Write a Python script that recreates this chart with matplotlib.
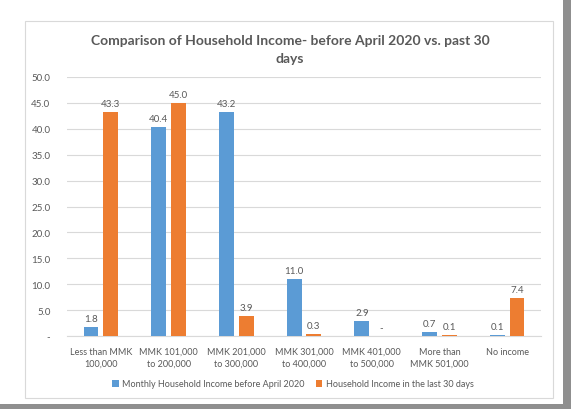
import matplotlib
matplotlib.use('Agg')
import matplotlib.pyplot as plt
from matplotlib.patches import Rectangle
import numpy as np

plt.rcParams['font.family'] = ['Lato', 'DejaVu Sans']

categories = ['Less than MMK\n100,000', 'MMK 101,000\nto 200,000', 'MMK 201,000\nto 300,000',
              'MMK 301,000\nto 400,000', 'MMK 401,000\nto 500,000', 'More than\nMMK 501,000',
              'No income']
before = [1.8, 40.4, 43.2, 11.0, 2.9, 0.7, 0.1]
last30 = [43.3, 45.0, 3.9, 0.3, 0.0, 0.1, 7.4]
series_names = ['Monthly Household Income before April 2020', 'Household Income in the last 30 days']
yticks = [0, 5, 10, 15, 20, 25, 30, 35, 40, 45, 50]

BLUE = '#5B9BD5'
ORANGE = '#ED7D31'
TXT = '#595959'

W, H = 571, 410


def fmt(v):
    # excel accounting style: zero shows as a dash
    return '-' if v == 0 else '%.1f' % v


fig = plt.figure(figsize=(W / 100, H / 100), dpi=100)
fig.patch.set_facecolor('#8f8f8f')

# white card with a drop shadow on the right and bottom
fig.patches.append(Rectangle((0, 5 / H), 563 / W, 1 - 5 / H, transform=fig.transFigure,
                             facecolor='white', edgecolor='none', zorder=0))
fig.patches.append(Rectangle((25 / W, 1 - 399 / H), (553 - 25) / W, (399 - 22) / H,
                             transform=fig.transFigure, facecolor='white',
                             edgecolor='#D9D9D9', lw=0.8, zorder=1))

ax = fig.add_axes([67 / W, 1 - 337 / H, (541 - 67) / W, (337 - 78) / H])
ax.set_facecolor('none')
ax.set_zorder(2)

x = np.arange(len(categories))
w = 0.22
off = 0.145
b1 = ax.bar(x - off, before, w, color=BLUE, label=series_names[0], zorder=3)
b2 = ax.bar(x + off, last30, w, color=ORANGE, label=series_names[1], zorder=3)

for bars, vals in ((b1, before), (b2, last30)):
    for r, v in zip(bars, vals):
        ax.annotate(fmt(v), (r.get_x() + r.get_width() / 2, v), xytext=(0, 3),
                    textcoords='offset points', ha='center', va='bottom',
                    fontsize=7, color=TXT)

ax.set_xlim(-0.5, len(categories) - 0.5)
ax.set_ylim(0, 50)
ax.set_yticks(yticks)
ax.set_yticklabels([fmt(v) for v in yticks])
ax.set_xticks(x)
ax.set_xticklabels(categories, linespacing=1.4)
ax.tick_params(axis='both', length=0, labelsize=7, colors=TXT)
ax.tick_params(axis='x', labelsize=6.5, pad=8)
ax.tick_params(axis='y', pad=12)
for t in ax.get_yticklabels():
    t.set_horizontalalignment('right')
ax.yaxis.grid(True, color='#D9D9D9', lw=0.8, zorder=0)
for s in ['top', 'right', 'left']:
    ax.spines[s].set_visible(False)
ax.spines['bottom'].set_color('#D9D9D9')
ax.spines['bottom'].set_linewidth(0.8)

fig.text(290 / W, 1 - 50 / H, 'Comparison of Household Income- before April 2020 vs. past 30\ndays',
         ha='center', va='center', fontsize=10, fontweight='bold', color=TXT,
         linespacing=1.55, zorder=4)

fig.legend(handles=[b1, b2], loc='center', bbox_to_anchor=(293 / W, 1 - 385 / H),
           ncol=2, frameon=False, fontsize=6.5, labelcolor=TXT, handlelength=0.7,
           handleheight=0.7, handletextpad=0.4, columnspacing=1.2)

fig.savefig('out.png', dpi=100, facecolor=fig.get_facecolor())
